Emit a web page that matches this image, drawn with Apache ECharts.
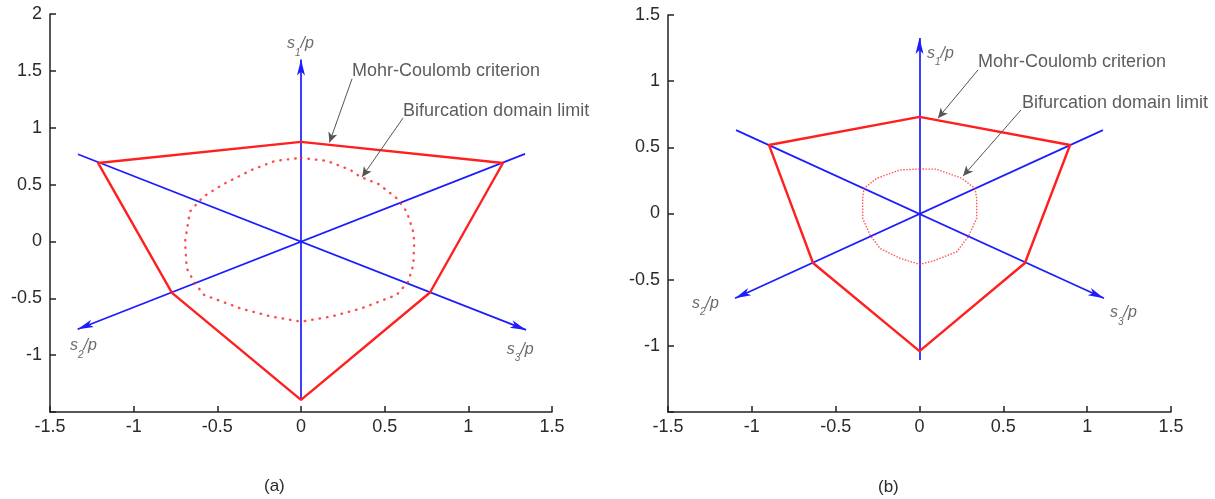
<!DOCTYPE html>
<html>
<head>
<meta charset="utf-8">
<script src="https://cdn.jsdelivr.net/npm/echarts@6/dist/echarts.min.js"></script>
<style>
html,body{margin:0;padding:0;background:#fff;}
#chart{width:1215px;height:499px;}
</style>
</head>
<body>
<div id="chart"></div>
<script>
// ---------- data (panel a) ----------
const mohrA = [[0,0.875],[1.207,0.69],[0.771,-0.449],[0,-1.394],[-0.771,-0.453],[-1.213,0.69],[0,0.875]];
const bifA = [[0,0.735],[0.155,0.708],[0.295,0.629],[0.353,0.57],[0.465,0.503],[0.572,0.38],[0.632,0.262],[0.668,0.1],[0.677,0],[0.671,-0.207],[0.641,-0.354],[0.572,-0.47],[0.363,-0.588],[0.183,-0.66],[0,-0.705],[-0.18,-0.66],[-0.36,-0.59],[-0.58,-0.47],[-0.634,-0.368],[-0.683,-0.236],[-0.693,0],[-0.664,0.262],[-0.584,0.394],[-0.465,0.503],[-0.295,0.629],[-0.155,0.708],[0,0.735]];
const axesA = [[[0,-1.394],[0,1.60]],[[1.339,0.77],[-1.335,-0.772]],[[-1.333,0.767],[1.345,-0.778]]];
const pointersA = [[[0.305,1.43],[0.17,0.87]],[[0.61,1.086],[0.365,0.567]]];
const notesA = [[0.305,1.50,'Mohr-Coulomb criterion'],[0.61,1.148,'Bifurcation domain limit']];
const axisNamesA = [[-0.084,1.737,'1'],[-1.381,-0.919,'2'],[1.23,-0.95,'3']];
// ---------- data (panel b) ----------
const mohrB = [[0,0.73],[0.898,0.518],[0.629,-0.374],[0,-1.04],[-0.635,-0.374],[-0.898,0.518],[0,0.73]];
const bifB = [[0,0.336],[0.1,0.335],[0.252,0.266],[0.331,0.19],[0.341,0.115],[0.341,-0.036],[0.291,-0.175],[0.222,-0.289],[0.082,-0.359],[0,-0.384],[-0.116,-0.339],[-0.236,-0.263],[-0.295,-0.163],[-0.339,-0.036],[-0.339,0.115],[-0.331,0.19],[-0.255,0.266],[-0.116,0.329],[0,0.336]];
const axesB = [[[0,-1.107],[0,1.327]],[[1.094,0.63],[-1.1,-0.64]],[[-1.094,0.63],[1.1,-0.64]]];
const pointersB = [[[0.349,1.085],[0.11,0.72]],[[0.605,0.782],[0.26,0.283]]];
const notesB = [[0.349,1.145,'Mohr-Coulomb criterion'],[0.611,0.835,'Bifurcation domain limit']];
const axisNamesB = [[0.045,1.21,'1'],[-1.357,-0.68,'2'],[1.136,-0.75,'3']];
// ---------- axis ranges / ticks ----------
const xRange = [-1.5, 1.5];
const yRangeA = [-1.5, 2];
const yRangeB = [-1.5, 1.5];
const tickStep = 0.5;
const hiddenYLabel = -1.5;
const panelTags = ['(a)', '(b)'];

const RED = '#ff1f1f', BLUE = '#1c1cff', TXT = '#2a2a2a';
const FONT = 'Liberation Sans, Arial, sans-serif';

function xAx(i){return {gridIndex:i,type:'value',min:xRange[0],max:xRange[1],interval:tickStep,
  axisLine:{show:true,onZero:false,lineStyle:{color:'#222',width:1.5}},
  axisTick:{show:true,inside:true,length:6,lineStyle:{color:'#222',width:1.5}},
  axisLabel:{color:TXT,fontSize:18,fontFamily:FONT,margin:6},
  splitLine:{show:false}};}
function yAx(i,r){return {gridIndex:i,type:'value',min:r[0],max:r[1],interval:tickStep,
  axisLine:{show:true,onZero:false,lineStyle:{color:'#222',width:1.5}},
  axisTick:{show:true,inside:true,length:6,lineStyle:{color:'#222',width:1.5}},
  axisLabel:{color:TXT,fontSize:18,fontFamily:FONT,margin:8,formatter:v=>v===hiddenYLabel?'':String(v)},
  splitLine:{show:false}};}

function panelSeries(i, mohr, bif, axes, pointers, notes, names, dotStyle){
  return [
    {type:'lines',coordinateSystem:'cartesian2d',xAxisIndex:i,yAxisIndex:i,z:2,
     symbol:['none','arrow'],symbolSize:[1,[6,16]],
     lineStyle:{color:BLUE,width:1.7,opacity:1},
     data:axes.map(c=>({coords:c}))},
    {type:'line',xAxisIndex:i,yAxisIndex:i,data:bif,symbol:'none',z:3,
     lineStyle:dotStyle},
    {type:'line',xAxisIndex:i,yAxisIndex:i,data:mohr,symbol:'none',z:4,
     lineStyle:{color:RED,width:2.4}},
    {type:'lines',coordinateSystem:'cartesian2d',xAxisIndex:i,yAxisIndex:i,z:5,
     symbol:['none','arrow'],symbolSize:[1,[7,10]],
     lineStyle:{color:'#555',width:1,opacity:1},
     data:pointers.map(c=>({coords:c}))},
    {type:'scatter',xAxisIndex:i,yAxisIndex:i,symbolSize:0,z:6,
     data:notes.map(n=>({value:[n[0],n[1]],name:n[2]})),
     label:{show:true,position:'right',distance:0,color:'#333',fontSize:18,fontFamily:FONT,formatter:p=>p.name}},
    {type:'scatter',xAxisIndex:i,yAxisIndex:i,symbolSize:0,z:6,
     data:names.map(n=>({value:[n[0],n[1]],name:n[2]})),
     label:{show:true,position:'right',distance:0,offset:[0,3],
       formatter:p=>'{a|s}{b|'+p.name+'}{a|/p}',
       rich:{a:{fontSize:16,fontStyle:'italic',fontFamily:FONT,color:'#444',verticalAlign:'top',lineHeight:17},
             b:{fontSize:10,fontStyle:'italic',fontFamily:FONT,color:'#444',verticalAlign:'bottom',lineHeight:22}}}}
  ];
}

const chart = echarts.init(document.getElementById('chart'));
chart.setOption({
  animation:false,
  backgroundColor:'#fff',
  grid:[{left:50,top:14,width:502,height:398},{left:668,top:15,width:503,height:397}],
  xAxis:[xAx(0),xAx(1)],
  yAxis:[yAx(0,yRangeA),yAx(1,yRangeB)],
  graphic:[
    {type:'text',left:264,top:478,style:{text:panelTags[0],fontSize:17,fontFamily:FONT,fill:TXT}},
    {type:'text',left:878,top:479,style:{text:panelTags[1],fontSize:17,fontFamily:FONT,fill:TXT}}
  ],
  series:[].concat(
    panelSeries(0,mohrA,bifA,axesA,pointersA,notesA,axisNamesA,{color:RED,width:2.4,type:[0.5,7],cap:'round',opacity:0.8}),
    panelSeries(1,mohrB,bifB,axesB,pointersB,notesB,axisNamesB,{color:RED,width:1.4,type:[1.5,1.5],opacity:0.75})
  )
});
</script>
</body>
</html>
